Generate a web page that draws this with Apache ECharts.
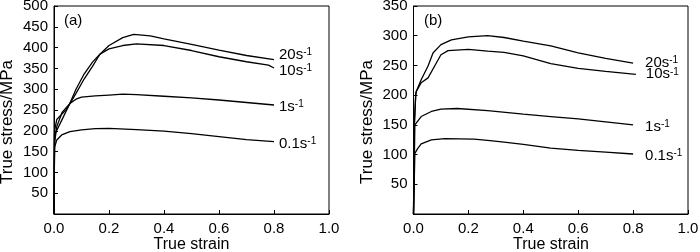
<!DOCTYPE html>
<html>
<head>
<meta charset="utf-8">
<script src="https://cdn.jsdelivr.net/npm/echarts@6/dist/echarts.min.js"></script>
<style>
html,body{margin:0;padding:0;background:#fff;}
#main{width:700px;height:252px;}
</style>
</head>
<body>
<div id="main"></div>
<script>
// panel (a)
var a20x = [0, 0.002, 0.03, 0.055, 0.08, 0.11, 0.14, 0.167, 0.2, 0.25, 0.29, 0.35, 0.4, 0.5, 0.6, 0.7, 0.8];
var a20y = [0, 190, 228, 262, 290, 325, 355, 384, 405, 424, 432, 428, 421, 408, 394, 381, 371];
var a10x = [0, 0.002, 0.01, 0.044, 0.055, 0.08, 0.11, 0.14, 0.167, 0.2, 0.25, 0.3, 0.4, 0.5, 0.6, 0.7, 0.78, 0.8];
var a10y = [0, 200, 227, 251, 262, 300, 337, 365, 384, 397, 405, 409, 405, 393, 378, 366, 358, 351];
var a1x = [0, 0.002, 0.01, 0.03, 0.058, 0.08, 0.1, 0.15, 0.2, 0.25, 0.3, 0.4, 0.5, 0.6, 0.7, 0.8];
var a1y = [0, 170, 210, 245, 266, 276, 281, 284, 286, 288, 287, 283, 279, 274, 268, 262];
var a01x = [0, 0.002, 0.01, 0.028, 0.058, 0.1, 0.15, 0.2, 0.3, 0.4, 0.5, 0.6, 0.7, 0.8];
var a01y = [0, 160, 178, 190, 198, 202, 205, 206, 203, 199, 193, 186, 179, 174];
// panel (b)
var b20x = [0, 0.003, 0.008, 0.01, 0.028, 0.053, 0.071, 0.1, 0.138, 0.2, 0.27, 0.33, 0.4, 0.5, 0.6, 0.7, 0.8];
var b20y = [0, 150, 200, 206, 226, 249, 271, 285, 293, 298, 300, 297, 291, 283, 271, 262, 254];
var b10x = [0, 0.003, 0.008, 0.01, 0.028, 0.053, 0.077, 0.1, 0.126, 0.2, 0.27, 0.33, 0.4, 0.5, 0.6, 0.7, 0.81];
var b10y = [0, 150, 200, 206, 221, 229, 249, 268, 275, 277, 274, 272, 266, 253, 245, 240, 235];
var b1x = [0, 0.005, 0.01, 0.028, 0.065, 0.1, 0.16, 0.27, 0.4, 0.5, 0.6, 0.7, 0.8];
var b1y = [0, 150, 152, 164, 172.5, 176.6, 177.5, 174, 168, 164, 160, 155, 150];
var b01x = [0, 0.005, 0.015, 0.028, 0.065, 0.114, 0.22, 0.27, 0.33, 0.4, 0.5, 0.6, 0.7, 0.8];
var b01y = [0, 102, 110, 118, 124.6, 127, 126, 124, 121, 117, 111, 107, 104, 101];

var rateLabels = ['20s', '10s', '1s', '0.1s'];

var font = 'Liberation Sans, Arial, sans-serif';

function pairs(xs, ys) {
	var d = [];
	for (var i = 0; i < xs.length; i++) d.push([xs[i], ys[i]]);
	return d;
}

function mkLine(idx, xs, ys, txt, dist, off) {
	return {
		type: 'line',
		xAxisIndex: idx,
		yAxisIndex: idx,
		data: pairs(xs, ys),
		showSymbol: false,
		silent: true,
		lineStyle: { color: '#000', width: 1.3 },
		endLabel: {
			show: true,
			distance: dist,
			offset: off,
			formatter: '{n|' + txt + '}{s|-1}',
			rich: {
				n: { fontSize: 15, color: '#000', fontFamily: font },
				s: { fontSize: 10, color: '#000', fontFamily: font, verticalAlign: 'top' }
			}
		}
	};
}

function mkX(idx) {
	return {
		type: 'value', gridIndex: idx, min: 0, max: 1, interval: 0.2,
		axisLine: { lineStyle: { color: '#000' } },
		axisTick: { inside: true, length: 4, lineStyle: { color: '#000' } },
		axisLabel: { color: '#000', fontSize: 15, fontFamily: font, margin: 7,
			formatter: function (v) { return v.toFixed(1); } },
		splitLine: { show: false }
	};
}

function mkY(idx, max) {
	return {
		type: 'value', gridIndex: idx, min: 0, max: max, interval: 50,
		axisLine: { lineStyle: { color: '#000' } },
		axisTick: { inside: true, length: 4, lineStyle: { color: '#000' } },
		axisLabel: { color: '#000', fontSize: 15, fontFamily: font, margin: 6,
			formatter: function (v) { return v === 0 ? '' : v; } },
		splitLine: { show: false }
	};
}

// 坐标轴名称
function axisText(x, y, txt, size, rot) {
	return {
		type: 'text', x: x, y: y, rotation: rot, silent: true,
		style: { text: txt, fill: '#000', font: size + 'px ' + font, align: 'center', verticalAlign: 'middle' }
	};
}

var chart = echarts.init(document.getElementById('main'));
chart.setOption({
	animation: false,
	backgroundColor: '#fff',
	title: [
		{ text: '(a)', left: 59, top: 8, textStyle: { fontSize: 15, fontWeight: 'normal', color: '#000', fontFamily: font } },
		{ text: '(b)', left: 419, top: 8, textStyle: { fontSize: 15, fontWeight: 'normal', color: '#000', fontFamily: font } }
	],
	graphic: [
		axisText(191.5, 245, 'True strain', 16, 0),
		axisText(551, 245, 'True strain', 16, 0),
		axisText(7, 122, 'True stress/MPa', 17, Math.PI / 2),
		axisText(367, 122, 'True stress/MPa', 17, Math.PI / 2)
	],
	grid: [
		{ left: 54, right: 371, top: 6, bottom: 38, show: true, borderColor: '#000', borderWidth: 1, outerBoundsMode: 'none', containLabel: false },
		{ left: 413.5, right: 12, top: 6, bottom: 38, show: true, borderColor: '#000', borderWidth: 1, outerBoundsMode: 'none', containLabel: false }
	],
	xAxis: [mkX(0), mkX(1)],
	yAxis: [mkY(0, 500), mkY(1, 350)],
	series: [
		mkLine(0, a20x, a20y, rateLabels[0], 5, [0, -5]),
		mkLine(0, a10x, a10y, rateLabels[1], 5, [0, 3]),
		mkLine(0, a1x, a1y, rateLabels[2], 5, [0, 2]),
		mkLine(0, a01x, a01y, rateLabels[3], 5, [0, 2]),
		mkLine(1, b20x, b20y, rateLabels[0], 12, [0, 0]),
		mkLine(1, b10x, b10y, rateLabels[1], 10, [0, 0]),
		mkLine(1, b1x, b1y, rateLabels[2], 12, [0, 2]),
		mkLine(1, b01x, b01y, rateLabels[3], 12, [0, 2])
	]
});
</script>
</body>
</html>
